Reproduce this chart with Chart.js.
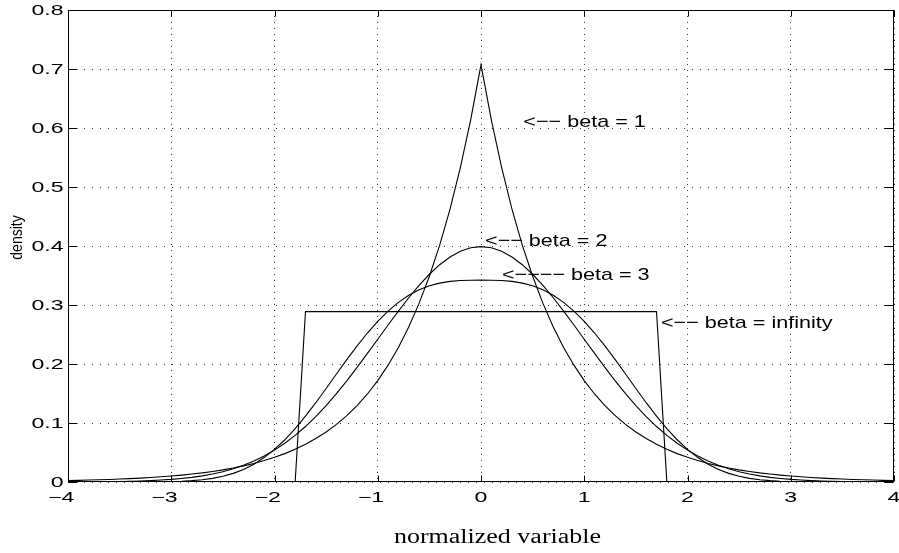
<!DOCTYPE html>
<html>
<head>
<meta charset="utf-8">
<script src="https://cdn.jsdelivr.net/npm/chart.js@4/dist/chart.umd.min.js"></script>
<style>
  html, body { margin: 0; padding: 0; background: #fff; }
  #c { display: block; }
</style>
</head>
<body>
<canvas id="c" width="899" height="553"></canvas>
<script>
// ---- data ----
const xValues = [
  -4.0,-3.9,-3.8,-3.7,-3.6,-3.5,-3.4,-3.3,-3.2,-3.1,
  -3.0,-2.9,-2.8,-2.7,-2.6,-2.5,-2.4,-2.3,-2.2,-2.1,
  -2.0,-1.9,-1.8,-1.7,-1.6,-1.5,-1.4,-1.3,-1.2,-1.1,
  -1.0,-0.9,-0.8,-0.7,-0.6,-0.5,-0.4,-0.3,-0.2,-0.1,
  0.0,
  0.1,0.2,0.3,0.4,0.5,0.6,0.7,0.8,0.9,1.0,
  1.1,1.2,1.3,1.4,1.5,1.6,1.7,1.8,1.9,2.0,
  2.1,2.2,2.3,2.4,2.5,2.6,2.7,2.8,2.9,3.0,
  3.1,3.2,3.3,3.4,3.5,3.6,3.7,3.8,3.9,4.0
];

const beta1 = [
  0.0025,0.0028,0.0033,0.0038,0.0043,0.0050,0.0058,0.0066,0.0077,0.0088,
  0.0102,0.0117,0.0135,0.0155,0.0179,0.0206,0.0237,0.0273,0.0315,0.0363,
  0.0418,0.0481,0.0555,0.0639,0.0736,0.0848,0.0976,0.1125,0.1296,0.1492,
  0.1719,0.1980,0.2281,0.2628,0.3027,0.3487,0.4016,0.4626,0.5329,0.6139,
  0.7071,
  0.6139,0.5329,0.4626,0.4016,0.3487,0.3027,0.2628,0.2281,0.1980,0.1719,
  0.1492,0.1296,0.1125,0.0976,0.0848,0.0736,0.0639,0.0555,0.0481,0.0418,
  0.0363,0.0315,0.0273,0.0237,0.0206,0.0179,0.0155,0.0135,0.0117,0.0102,
  0.0088,0.0077,0.0066,0.0058,0.0050,0.0043,0.0038,0.0033,0.0028,0.0025
];

const beta2 = [
  0.0001,0.0002,0.0003,0.0004,0.0006,0.0009,0.0012,0.0017,0.0024,0.0033,
  0.0044,0.0060,0.0079,0.0104,0.0136,0.0175,0.0224,0.0283,0.0355,0.0440,
  0.0540,0.0656,0.0790,0.0940,0.1109,0.1295,0.1497,0.1714,0.1942,0.2179,
  0.2420,0.2661,0.2897,0.3123,0.3332,0.3521,0.3683,0.3814,0.3910,0.3970,
  0.3989,
  0.3970,0.3910,0.3814,0.3683,0.3521,0.3332,0.3123,0.2897,0.2661,0.2420,
  0.2179,0.1942,0.1714,0.1497,0.1295,0.1109,0.0940,0.0790,0.0656,0.0540,
  0.0440,0.0355,0.0283,0.0224,0.0175,0.0136,0.0104,0.0079,0.0060,0.0044,
  0.0033,0.0024,0.0017,0.0012,0.0009,0.0006,0.0004,0.0003,0.0002,0.0001
];

const beta3 = [
  0,0,0,0,0,0,0,0.0001,0.0002,0.0004,
  0.0007,0.0013,0.0023,0.0038,0.0062,0.0097,0.0146,0.0213,0.0302,0.0414,
  0.0552,0.0716,0.0905,0.1116,0.1344,0.1584,0.1830,0.2073,0.2307,0.2525,
  0.2723,0.2897,0.3044,0.3164,0.3257,0.3325,0.3371,0.3400,0.3415,0.3420,
  0.3421,
  0.3420,0.3415,0.3400,0.3371,0.3325,0.3257,0.3164,0.3044,0.2897,0.2723,
  0.2525,0.2307,0.2073,0.1830,0.1584,0.1344,0.1116,0.0905,0.0716,0.0552,
  0.0414,0.0302,0.0213,0.0146,0.0097,0.0062,0.0038,0.0023,0.0013,0.0007,
  0.0004,0.0002,0.0001,0,0,0,0,0,0,0
];

const betaInf = [
  0,0,0,0,0,0,0,0,0,0,
  0,0,0,0,0,0,0,0,0,0,
  0,0,0,0.2887,0.2887,0.2887,0.2887,0.2887,0.2887,0.2887,
  0.2887,0.2887,0.2887,0.2887,0.2887,0.2887,0.2887,0.2887,0.2887,0.2887,
  0.2887,
  0.2887,0.2887,0.2887,0.2887,0.2887,0.2887,0.2887,0.2887,0.2887,0.2887,
  0.2887,0.2887,0.2887,0.2887,0.2887,0.2887,0.2887,0,0,0,
  0,0,0,0,0,0,0,0,0,0,
  0,0,0,0,0,0,0,0,0,0
];

const xTickValues = [-4,-3,-2,-1,0,1,2,3,4];
const xTickLabels = ['\u22124','\u22123','\u22122','\u22121','0','1','2','3','4'];
const yTickValues = [0,0.1,0.2,0.3,0.4,0.5,0.6,0.7,0.8];
const yTickLabels = ['0','0.1','0.2','0.3','0.4','0.5','0.6','0.7','0.8'];

const xTitle = 'normalized variable';
const yTitle = 'density';

const annotationTexts = ['<\u2212\u2212 beta = 1','<\u2212\u2212 beta = 2','<\u2212\u2212\u2212\u2212 beta = 3','<\u2212\u2212 beta = infinity'];
const annotationX = [0.41, 0.039, 0.203, 1.743];
const annotationY = [0.602, 0.4005, 0.342, 0.261];

// ---- styling / drawing ----
function toPoints(ys) { return xValues.map((x, i) => ({ x: x, y: ys[i] })); }

function stretchedText(ctx, text, x, y, font, sx, align) {
  ctx.save();
  ctx.font = font;
  ctx.textAlign = align;
  ctx.textBaseline = 'alphabetic';
  ctx.fillStyle = '#000';
  ctx.translate(x, y);
  ctx.scale(sx, 1);
  ctx.fillText(text, 0, 0);
  ctx.restore();
}

const tickFont = '14px "Liberation Sans", Arial, sans-serif';
const tickSx = 1.65;

const matlabLook = {
  id: 'matlabLook',
  afterDraw(chart) {
    const ctx = chart.ctx;
    const a = chart.chartArea;
    const xs = chart.scales.x, ys = chart.scales.y;
    ctx.save();
    ctx.strokeStyle = '#000';
    ctx.lineWidth = 1;
    ctx.setLineDash([]);
    const L = Math.round(a.left) + 0.5, R = Math.round(a.right) - 0.5;
    const T = Math.round(a.top) + 0.5, B = Math.round(a.bottom) - 0.5;
    ctx.strokeRect(L, T, R - L, B - T);
    ctx.beginPath();
    xTickValues.forEach(v => {
      const px = Math.round(xs.getPixelForValue(v)) + 0.5;
      ctx.moveTo(px, B); ctx.lineTo(px, B - 6);
      ctx.moveTo(px, T); ctx.lineTo(px, T + 6);
    });
    yTickValues.forEach(v => {
      const py = Math.round(ys.getPixelForValue(v)) + 0.5;
      ctx.moveTo(L, py); ctx.lineTo(L + 9, py);
      ctx.moveTo(R, py); ctx.lineTo(R - 9, py);
    });
    ctx.stroke();
    ctx.restore();

    // y tick labels
    yTickValues.forEach((v, i) => {
      const py = ys.getPixelForValue(v);
      stretchedText(ctx, yTickLabels[i], a.left - 4.5, py + 5, tickFont, tickSx, 'right');
    });
    // x tick labels (digits centred on the tick, minus sign hanging left)
    ctx.save();
    ctx.font = tickFont;
    xTickValues.forEach((v, i) => {
      const px = xs.getPixelForValue(v);
      const lab = xTickLabels[i];
      const digits = lab.replace('\u2212', '');
      const w = ctx.measureText(digits).width * tickSx;
      stretchedText(ctx, lab, px + w / 2, a.bottom + 20, tickFont, tickSx, 'right');
    });
    ctx.restore();

    // x title
    stretchedText(ctx, xTitle, (a.left + a.right) / 2 + 16.5, 543.3,
      '20px "Liberation Serif", "Times New Roman", serif', 1.3, 'center');

    // y title (rotated)
    ctx.save();
    ctx.font = '14px "Liberation Sans", Arial, sans-serif';
    ctx.fillStyle = '#000';
    ctx.textAlign = 'center';
    ctx.textBaseline = 'alphabetic';
    ctx.translate(21.6, (a.top + a.bottom) / 2 - 8.5);
    ctx.scale(1.14, 1);
    ctx.rotate(-Math.PI / 2);
    ctx.fillText(yTitle, 0, 0);
    ctx.restore();

    // annotations
    annotationTexts.forEach((t, i) => {
      stretchedText(ctx, t, xs.getPixelForValue(annotationX[i]), ys.getPixelForValue(annotationY[i]),
        '17px "Liberation Sans", Arial, sans-serif', 1.27, 'left');
    });
  }
};

const lineStyle = { borderColor: '#000', borderWidth: 1.1, pointRadius: 0, tension: 0, fill: false };

new Chart(document.getElementById('c'), {
  type: 'line',
  data: {
    datasets: [
      Object.assign({ label: 'beta = 1', data: toPoints(beta1) }, lineStyle),
      Object.assign({ label: 'beta = 2', data: toPoints(beta2) }, lineStyle),
      Object.assign({ label: 'beta = 3', data: toPoints(beta3) }, lineStyle),
      Object.assign({ label: 'beta = infinity', data: toPoints(betaInf) }, lineStyle)
    ]
  },
  options: {
    responsive: false,
    animation: false,
    devicePixelRatio: 1,
    layout: { padding: { left: 0, right: 5, top: 10, bottom: 0 } },
    plugins: { legend: { display: false }, tooltip: { enabled: false } },
    scales: {
      x: {
        type: 'linear', min: -4, max: 4,
        afterBuildTicks: s => { s.ticks = xTickValues.map(v => ({ value: v })); },
        afterFit: s => { s.height = 71; },
        ticks: { display: false },
        grid: { color: '#333', lineWidth: 1, drawTicks: false },
        border: { display: false, dash: [1, 5] }
      },
      y: {
        type: 'linear', min: 0, max: 0.8,
        afterBuildTicks: s => { s.ticks = yTickValues.map(v => ({ value: v })); },
        afterFit: s => { s.width = 68; },
        ticks: { display: false },
        grid: { color: '#333', lineWidth: 1, drawTicks: false },
        border: { display: false, dash: [1, 7] }
      }
    }
  },
  plugins: [matlabLook]
});
</script>
</body>
</html>
